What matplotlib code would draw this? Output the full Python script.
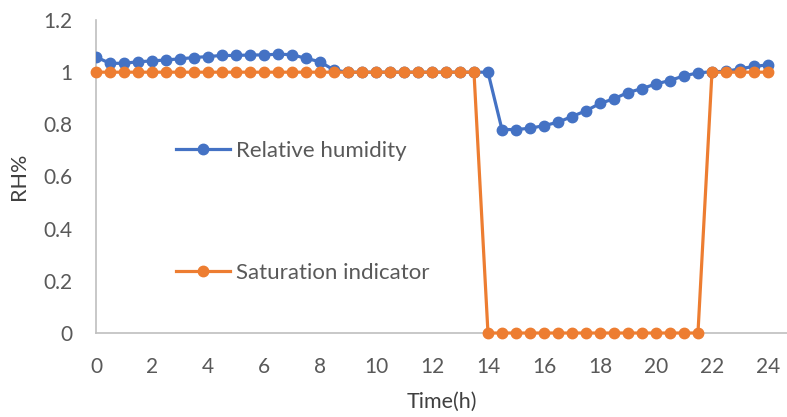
import numpy as np
import matplotlib.pyplot as plt

# ────────────────────────────────────────────────
# Data (half-hour steps)
time_h = np.arange(0, 24.5, 0.5)

rel_humidity = [
    1.058, 1.034, 1.034, 1.040, 1.043, 1.047, 1.051, 1.056, 1.060, 1.064,
    1.064, 1.066, 1.066, 1.069, 1.067, 1.053, 1.040, 1.008, 1.000, 1.000,
    1.000, 1.000, 1.000, 1.000, 1.000, 1.000, 1.000, 1.000, 1.000, 0.780,
    0.780, 0.785, 0.795, 0.808, 0.830, 0.852, 0.880, 0.898, 0.922, 0.937,
    0.955, 0.968, 0.986, 0.997, 1.002, 1.003, 1.013, 1.022, 1.028,
]

saturation = [1] * 28 + [0] * 16 + [1] * 5

x_ticks = np.arange(0, 25, 2)
y_ticks = [0, 0.2, 0.4, 0.6, 0.8, 1, 1.2]
y_tick_labels = ["0", "0.2", "0.4", "0.6", "0.8", "1", "1.2"]

BLUE = "#4472C4"
ORANGE = "#ED7D31"
TEXT = "#595959"
AXIS = "#BFBFBF"

plt.rcParams['font.family'] = ['Lato', 'DejaVu Sans']

# ────────────────────────────────────────────────
fig = plt.figure(figsize=(7.87, 4.17), dpi=100)
ax = fig.add_axes([96 / 787, 1 - 333 / 417, 1 - 96 / 787, (333 - 20) / 417])

ax.plot(time_h, rel_humidity, color=BLUE, lw=2.3, marker='o', ms=7.5,
        label="Relative humidity", zorder=3)
ax.plot(time_h, saturation, color=ORANGE, lw=2.3, marker='o', ms=7.5,
        label="Saturation indicator", zorder=4, clip_on=False)

ax.set_xlim(0, 24.68)
ax.set_ylim(0, 1.2)
ax.set_xticks(x_ticks)
ax.set_yticks(y_ticks)
ax.set_yticklabels(y_tick_labels)
ax.tick_params(length=0, labelsize=15, colors=TEXT, pad=17)

for side in ["top", "right"]:
    ax.spines[side].set_visible(False)
for side in ["left", "bottom"]:
    ax.spines[side].set_color(AXIS)
    ax.spines[side].set_linewidth(1.2)

ax.set_xlabel("Time(h)", fontsize=15.5, color="#404040", labelpad=11)
ax.set_ylabel("RH%", fontsize=15.5, color="#404040", labelpad=10)

ax.legend(loc='upper left', bbox_to_anchor=(0.0875, 0.677), frameon=False,
          fontsize=16, labelcolor=TEXT, labelspacing=4.57,
          handlelength=2.43, handletextpad=0.23)

fig.savefig("out.png", dpi=100)
plt.close('all')
